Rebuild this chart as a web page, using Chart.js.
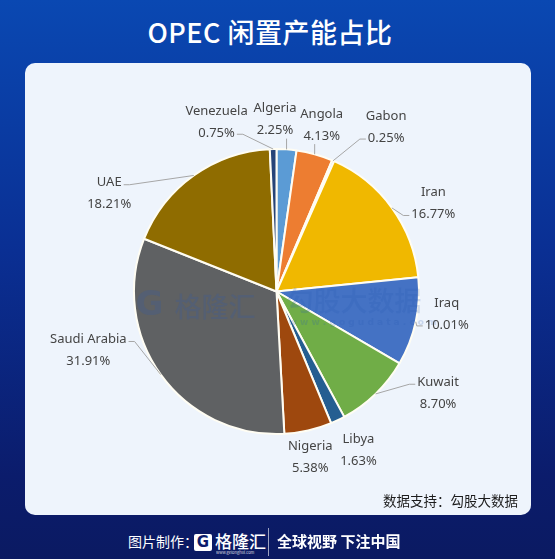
<!DOCTYPE html>
<html>
<head>
<meta charset="utf-8">
<script src="https://cdn.jsdelivr.net/npm/chart.js@4.4.1/dist/chart.umd.min.js"></script>
<style>
  html, body { margin: 0; padding: 0; }
  body {
    width: 555px; height: 559px; overflow: hidden; position: relative;
    background: linear-gradient(180deg, #0a48b2 0%, #0a2f93 45%, #0b1c6c 85%, #0b1a62 100%);
    font-family: "Noto Sans CJK SC", "Noto Sans", sans-serif;
  }
  #title {
    position: absolute; left: 0; width: 540px; top: 12px; text-align: center;
    color: #fff; font-size: 27px; font-weight: 500; letter-spacing: 0.5px;
  }
  #panel {
    position: absolute; left: 25px; top: 63px; width: 506px; height: 452px;
    background: #eef4fc; border-radius: 10px;
  }
  #panel canvas { position: absolute; left: 0; top: 0; }
  #source {
    position: absolute; right: 13px; bottom: 5px; font-size: 13.5px; color: #1c1c1c;
  }
  #footer {
    position: absolute; left: 0; top: 527px; width: 555px; height: 30px; color: #fff;
  }
  #footer .made { position: absolute; left: 128px; top: 4px; font-size: 14px; }
  #footer .icon {
    position: absolute; left: 194px; top: 7px; width: 18px; height: 17px; background: #fff;
    border-radius: 2px; color: #0b1c6c; font: 900 15px/17px "DejaVu Sans", sans-serif; text-align: center;
  }
  #footer .brand { position: absolute; left: 215px; top: 1px; font-size: 17px; font-weight: 500; }
  #footer .url { position: absolute; left: 216px; top: 22px; font-size: 4px; opacity: 0.8; }
  #footer .sep { position: absolute; left: 268px; top: 1px; width: 1px; height: 28px; background: rgba(255,255,255,0.6); }
  #footer .slogan { position: absolute; left: 277px; top: 3px; font-size: 15px; font-weight: 700; }
</style>
</head>
<body>
<div id="title">OPEC 闲置产能占比</div>
<div id="panel">
  <canvas id="pieChart" width="506" height="452"></canvas>
  <div id="source">数据支持：勾股大数据</div>
</div>
<div id="footer">
  <span class="made">图片制作：</span>
  <span class="icon">G</span>
  <span class="brand">格隆汇</span>
  <span class="url">www.gelonghui.com</span>
  <span class="sep"></span>
  <span class="slogan">全球视野 下注中国</span>
</div>
<script>
// 数据
const countries = ['Algeria', 'Angola', 'Gabon', 'Iran', 'Iraq', 'Kuwait', 'Libya', 'Nigeria', 'Saudi Arabia', 'UAE', 'Venezuela'];
const shares = [2.25, 4.13, 0.25, 16.77, 10.01, 8.70, 1.63, 5.38, 31.91, 18.21, 0.75];
const sliceColors = ['#5b9bd5', '#ed7d31', '#a5a5a5', '#f0b800', '#4472c4', '#70ad47', '#255e91', '#9e480e', '#5f6163', '#8f6c00', '#264478'];

// label placement: [angle from top in degrees, distance as a multiple of radius, leader attach]
const labelLayout = [
  [359.5, 1.206, 'b'], [15.2, 1.21, 'b'], [33.7, 1.387, 'l2'], [60.7, 1.262, 'l2'],
  [97.5, 1.205, 'l2'], [122.2, 1.34, 'l1'], [152.7, 1.254, ''], [168.5, 1.188, ''],
  [252.6, 1.384, 'r1'], [300.3, 1.36, 'r1'], [340.5, 1.26, 'r2']
];

const outsideLabels = {
  id: 'outsideLabels',
  afterDatasetsDraw(chart) {
    const ctx = chart.ctx;
    const arcs = chart.getDatasetMeta(0).data;
    ctx.save();

    // watermark
    const a0 = arcs[0];
    const cx = a0.x, cy = a0.y, r = a0.outerRadius;
    ctx.fillStyle = 'rgba(40, 90, 180, 0.2)';
    ctx.textBaseline = 'middle';
    ctx.textAlign = 'left';
    ctx.font = '900 34px "DejaVu Sans", sans-serif';
    ctx.fillText('G', cx - 141, cy + 15);
    ctx.font = '500 27px "Noto Sans CJK SC"';
    ctx.fillText('格隆汇', cx - 102, cy + 15);
    ctx.fillText('勾股大数据', cx + 10, cy + 9);
    ctx.font = '600 9px "DejaVu Sans", sans-serif';
    ctx.fillText('w w w . g o g u d a t a . c o m', cx + 12, cy + 31);

    ctx.font = '13px "Noto Sans", "Noto Sans CJK SC", sans-serif';
    ctx.textAlign = 'center';
    arcs.forEach((arc, i) => {
      const [ang, dist, attach] = labelLayout[i];
      const t = ang * Math.PI / 180;
      const lx = cx + r * dist * Math.sin(t);
      const ly = cy - r * dist * Math.cos(t);
      const name = countries[i];
      const pct = shares[i].toFixed(2) + '%';
      ctx.fillStyle = '#444444';
      ctx.fillText(name, lx, ly - 11);
      ctx.fillText(pct, lx, ly + 11);

      if (!attach) return;
      const mid = (arc.startAngle + arc.endAngle) / 2;
      const px = cx + r * Math.cos(mid);
      const py = cy + r * Math.sin(mid);
      let ex, ey, tail = 0;
      const wName = ctx.measureText(name).width / 2;
      const wPct = ctx.measureText(pct).width / 2;
      if (attach === 'b') { ex = Math.min(Math.max(px, lx - wPct + 2), lx + wPct - 2); ey = ly + 19; }
      else if (attach === 'l1') { ex = lx - wName - 2; ey = ly - 9; tail = -6; }
      else if (attach === 'r1') { ex = lx + wName + 2; ey = ly - 9; tail = 6; }
      else if (attach === 'l2') { ex = lx - wPct - 2; ey = ly + 12; tail = -6; }
      else { ex = lx + wPct + 2; ey = ly + 12; tail = 6; }
      ctx.strokeStyle = '#a6a6a6';
      ctx.lineWidth = 1;
      ctx.beginPath();
      ctx.moveTo(px, py);
      ctx.lineTo(ex + tail, ey);
      ctx.lineTo(ex, ey);
      ctx.stroke();
    });
    ctx.restore();
  }
};

new Chart(document.getElementById('pieChart').getContext('2d'), {
  type: 'pie',
  data: {
    labels: countries,
    datasets: [{
      data: shares,
      backgroundColor: sliceColors,
      borderColor: '#fffdf3',
      borderWidth: 2
    }]
  },
  options: {
    responsive: false,
    animation: false,
    layout: { padding: { left: 108, right: 111, top: 85, bottom: 80 } },
    plugins: { legend: { display: false }, tooltip: { enabled: false } }
  },
  plugins: [outsideLabels]
});
</script>
</body>
</html>
